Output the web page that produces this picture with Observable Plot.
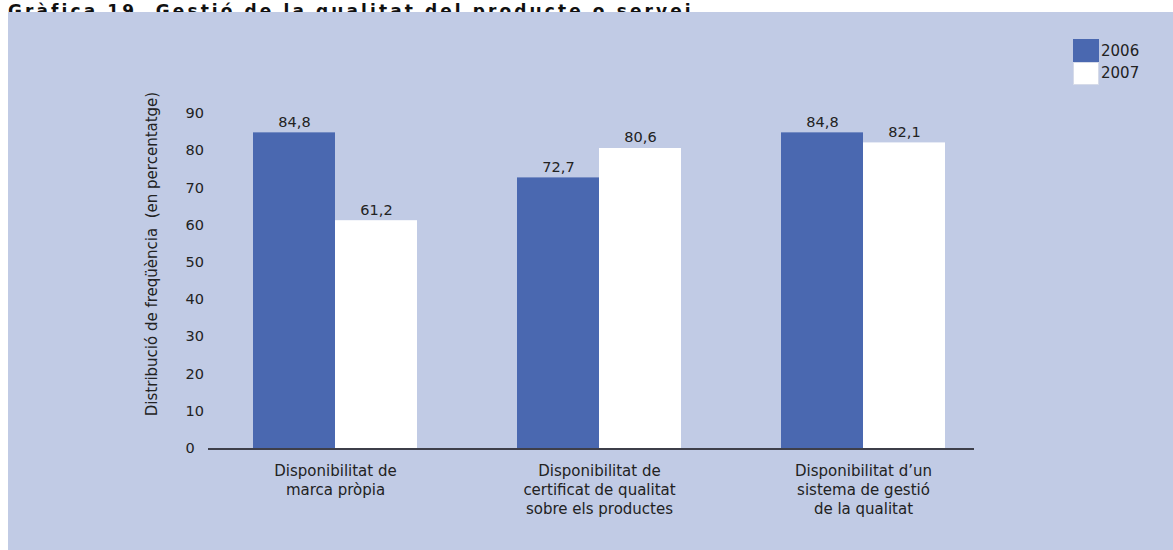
<!DOCTYPE html>
<html><head><meta charset="utf-8">
<script src="https://cdn.jsdelivr.net/npm/d3@7"></script>
<script src="https://cdn.jsdelivr.net/npm/@observablehq/plot@0.6"></script>
<style>
body{margin:0;background:#fff;font-family:"DejaVu Sans",sans-serif;}
#wrap{position:relative;width:1173px;height:550px;overflow:hidden;}
#title{position:absolute;left:8px;top:2px;font-weight:bold;font-size:17px;line-height:18px;letter-spacing:3.1px;color:#111;z-index:0;white-space:nowrap;}
#panel{position:absolute;left:8px;top:12px;width:1165px;height:538px;background:#c1cbe5;z-index:1;}
#panel svg{display:block;background:transparent;}
.sw{position:absolute;left:1073px;width:26px;box-sizing:border-box;z-index:2;}
.lt{position:absolute;left:1101px;font-size:15px;line-height:18px;color:#222;z-index:2;}
</style></head>
<body>
<div id="wrap">
  <div id="title"></div>
  <div id="panel"></div>
  <div class="sw" style="top:39px;height:23px;background:#4a68b0;"></div>
  <div class="sw" style="top:62px;height:23px;background:#fff;border:1px solid #d6dbe9;"></div>
  <div class="lt" id="l1" style="top:42px;"></div>
  <div class="lt" id="l2" style="top:64px;"></div>
</div>
<script>
const title = "Gràfica 19. Gestió de la qualitat del producte o servei";
const categories = [
  "Disponibilitat de\nmarca pròpia",
  "Disponibilitat de\ncertificat de qualitat\nsobre els productes",
  "Disponibilitat d’un\nsistema de gestió\nde la qualitat"
];
const series = ["2006", "2007"];
const values2006 = [84.8, 72.7, 84.8];
const values2007 = [61.2, 80.6, 82.1];
const yTicks = [0, 10, 20, 30, 40, 50, 60, 70, 80, 90];
const yLabel = "Distribució de freqüència  (en percentatge)";
const colors = ["#4a68b0", "#ffffff"];

document.getElementById("title").textContent = title;
document.getElementById("l1").textContent = series[0];
document.getElementById("l2").textContent = series[1];

const d06 = categories.map((c, i) => ({cat: c, v: values2006[i]}));
const d07 = categories.map((c, i) => ({cat: c, v: values2007[i]}));
const fmt = v => v.toFixed(1).replace(".", ",");

const chart = Plot.plot({
  width: 1165,
  height: 538,
  marginLeft: 200,
  marginRight: 183,
  marginTop: 101,
  marginBottom: 102,
  style: {fontFamily: "DejaVu Sans, sans-serif", fontSize: "15px", color: "#222", background: "transparent"},
  x: {domain: categories, paddingInner: 0.379, paddingOuter: 0.17, axis: null},
  y: {domain: [0, 90], axis: null},
  marks: [
    Plot.barY(d06, {x: "cat", y: "v", fill: colors[0], insetRight: 82}),
    Plot.barY(d07, {x: "cat", y: "v", fill: colors[1], insetLeft: 82}),
    Plot.ruleY([0], {stroke: "#3e3f4a", strokeWidth: 2, insetRight: 16, dy: 0.5}),
    Plot.text(d06, {x: "cat", y: "v", text: d => fmt(d.v), dx: -41, dy: -6, lineAnchor: "bottom", fill: "#222", fontSize: 14.5}),
    Plot.text(d07, {x: "cat", y: "v", text: d => fmt(d.v), dx: 41, dy: -6, lineAnchor: "bottom", fill: "#222", fontSize: 14.5}),
    Plot.axisY({ticks: yTicks, tickSize: 0, tickPadding: 23, textAnchor: "start", label: null, fontSize: 14.5}),
    Plot.axisX({tickSize: 0, tickPadding: 14, lineAnchor: "top", lineHeight: 1.27, label: null, fontSize: 15, style: {letterSpacing: "0.4px"}}),
    Plot.text([yLabel], {frameAnchor: "left", textAnchor: "middle", lineAnchor: "middle", rotate: -90, dx: -56, dy: -27, fill: "#222", fontSize: 15})
  ]
});
document.getElementById("panel").appendChild(chart);
</script>
</body></html>
